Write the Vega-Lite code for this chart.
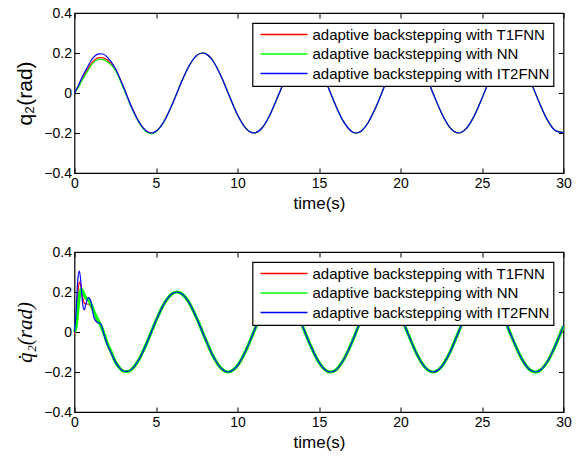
{
  "$schema": "https://vega.github.io/schema/vega-lite/v6.json",
  "background": "white",
  "padding": {"left": 13.5, "top": 5, "right": 5, "bottom": 5},
  "spacing": 32,
  "datasets": {
    "pos": [
      {"t": 0, "T1FNN": 0, "NN": 0, "IT2FNN": 0},
      {"t": 0.25, "T1FNN": 0.035, "NN": 0.03, "IT2FNN": 0.04},
      {"t": 0.5, "T1FNN": 0.075, "NN": 0.068, "IT2FNN": 0.085},
      {"t": 0.75, "T1FNN": 0.11, "NN": 0.102, "IT2FNN": 0.122},
      {"t": 1, "T1FNN": 0.145, "NN": 0.136, "IT2FNN": 0.16},
      {"t": 1.25, "T1FNN": 0.167, "NN": 0.158, "IT2FNN": 0.185},
      {"t": 1.5, "T1FNN": 0.177, "NN": 0.168, "IT2FNN": 0.196},
      {"t": 1.75, "T1FNN": 0.176, "NN": 0.167, "IT2FNN": 0.195},
      {"t": 2, "T1FNN": 0.165, "NN": 0.157, "IT2FNN": 0.18},
      {"t": 2.5, "T1FNN": 0.121, "NN": 0.114, "IT2FNN": 0.124},
      {"t": 3, "T1FNN": 0.03, "NN": 0.024, "IT2FNN": 0.031},
      {"t": 3.5, "T1FNN": -0.069, "NN": -0.074, "IT2FNN": -0.069},
      {"t": 4, "T1FNN": -0.15, "NN": -0.154, "IT2FNN": -0.151},
      {"t": 4.5, "T1FNN": -0.195, "NN": -0.199, "IT2FNN": -0.195},
      {"t": 4.75, "T1FNN": -0.2, "NN": -0.204, "IT2FNN": -0.2},
      {"t": 5, "T1FNN": -0.191, "NN": -0.194, "IT2FNN": -0.191},
      {"t": 5.5, "T1FNN": -0.141, "NN": -0.142, "IT2FNN": -0.141},
      {"t": 6, "T1FNN": -0.056, "NN": -0.056, "IT2FNN": -0.056},
      {"t": 6.5, "T1FNN": 0.043, "NN": 0.043, "IT2FNN": 0.043},
      {"t": 7, "T1FNN": 0.131, "NN": 0.131, "IT2FNN": 0.131},
      {"t": 7.5, "T1FNN": 0.188, "NN": 0.188, "IT2FNN": 0.188},
      {"t": 7.85, "T1FNN": 0.2, "NN": 0.2, "IT2FNN": 0.2},
      {"t": 8, "T1FNN": 0.198, "NN": 0.198, "IT2FNN": 0.198},
      {"t": 8.5, "T1FNN": 0.16, "NN": 0.16, "IT2FNN": 0.16},
      {"t": 9, "T1FNN": 0.082, "NN": 0.082, "IT2FNN": 0.082},
      {"t": 9.5, "T1FNN": -0.015, "NN": -0.015, "IT2FNN": -0.015},
      {"t": 10, "T1FNN": -0.109, "NN": -0.109, "IT2FNN": -0.109},
      {"t": 10.5, "T1FNN": -0.176, "NN": -0.176, "IT2FNN": -0.176},
      {"t": 11, "T1FNN": -0.2, "NN": -0.2, "IT2FNN": -0.2},
      {"t": 11.5, "T1FNN": -0.175, "NN": -0.175, "IT2FNN": -0.175},
      {"t": 12, "T1FNN": -0.107, "NN": -0.107, "IT2FNN": -0.107},
      {"t": 12.5, "T1FNN": -0.013, "NN": -0.013, "IT2FNN": -0.013},
      {"t": 13, "T1FNN": 0.084, "NN": 0.084, "IT2FNN": 0.084},
      {"t": 13.5, "T1FNN": 0.161, "NN": 0.161, "IT2FNN": 0.161},
      {"t": 14, "T1FNN": 0.198, "NN": 0.198, "IT2FNN": 0.198},
      {"t": 14.15, "T1FNN": 0.2, "NN": 0.2, "IT2FNN": 0.2},
      {"t": 14.5, "T1FNN": 0.187, "NN": 0.187, "IT2FNN": 0.187},
      {"t": 15, "T1FNN": 0.13, "NN": 0.13, "IT2FNN": 0.13},
      {"t": 15.5, "T1FNN": 0.041, "NN": 0.041, "IT2FNN": 0.041},
      {"t": 16, "T1FNN": -0.058, "NN": -0.058, "IT2FNN": -0.058},
      {"t": 16.5, "T1FNN": -0.142, "NN": -0.142, "IT2FNN": -0.142},
      {"t": 17, "T1FNN": -0.192, "NN": -0.192, "IT2FNN": -0.192},
      {"t": 17.28, "T1FNN": -0.2, "NN": -0.2, "IT2FNN": -0.2},
      {"t": 17.5, "T1FNN": -0.195, "NN": -0.195, "IT2FNN": -0.195},
      {"t": 18, "T1FNN": -0.15, "NN": -0.15, "IT2FNN": -0.15},
      {"t": 18.5, "T1FNN": -0.069, "NN": -0.069, "IT2FNN": -0.069},
      {"t": 19, "T1FNN": 0.03, "NN": 0.03, "IT2FNN": 0.03},
      {"t": 19.5, "T1FNN": 0.121, "NN": 0.121, "IT2FNN": 0.121},
      {"t": 20, "T1FNN": 0.183, "NN": 0.183, "IT2FNN": 0.183},
      {"t": 20.42, "T1FNN": 0.2, "NN": 0.2, "IT2FNN": 0.2},
      {"t": 20.75, "T1FNN": 0.19, "NN": 0.19, "IT2FNN": 0.19},
      {"t": 21, "T1FNN": 0.167, "NN": 0.167, "IT2FNN": 0.167},
      {"t": 21.5, "T1FNN": 0.094, "NN": 0.094, "IT2FNN": 0.094},
      {"t": 22, "T1FNN": -0.002, "NN": -0.002, "IT2FNN": -0.002},
      {"t": 22.5, "T1FNN": -0.097, "NN": -0.097, "IT2FNN": -0.097},
      {"t": 23, "T1FNN": -0.169, "NN": -0.169, "IT2FNN": -0.169},
      {"t": 23.56, "T1FNN": -0.2, "NN": -0.2, "IT2FNN": -0.2},
      {"t": 24, "T1FNN": -0.181, "NN": -0.181, "IT2FNN": -0.181},
      {"t": 24.5, "T1FNN": -0.118, "NN": -0.118, "IT2FNN": -0.118},
      {"t": 25, "T1FNN": -0.026, "NN": -0.026, "IT2FNN": -0.026},
      {"t": 25.5, "T1FNN": 0.072, "NN": 0.072, "IT2FNN": 0.072},
      {"t": 26, "T1FNN": 0.153, "NN": 0.153, "IT2FNN": 0.153},
      {"t": 26.5, "T1FNN": 0.196, "NN": 0.196, "IT2FNN": 0.196},
      {"t": 26.7, "T1FNN": 0.2, "NN": 0.2, "IT2FNN": 0.2},
      {"t": 27, "T1FNN": 0.191, "NN": 0.191, "IT2FNN": 0.191},
      {"t": 27.5, "T1FNN": 0.14, "NN": 0.14, "IT2FNN": 0.14},
      {"t": 28, "T1FNN": 0.054, "NN": 0.054, "IT2FNN": 0.054},
      {"t": 28.5, "T1FNN": -0.045, "NN": -0.045, "IT2FNN": -0.045},
      {"t": 29, "T1FNN": -0.133, "NN": -0.133, "IT2FNN": -0.133},
      {"t": 29.5, "T1FNN": -0.188, "NN": -0.188, "IT2FNN": -0.188},
      {"t": 30, "T1FNN": -0.198, "NN": -0.198, "IT2FNN": -0.198}
    ],
    "vel": [
      {"t": 0, "T1FNN": -0.01, "NN": 0, "IT2FNN": 0},
      {"t": 0.1, "T1FNN": 0.07, "NN": 0.03, "IT2FNN": 0.1},
      {"t": 0.2, "T1FNN": 0.19, "NN": 0.11, "IT2FNN": 0.26},
      {"t": 0.3, "T1FNN": 0.25, "NN": 0.18, "IT2FNN": 0.305},
      {"t": 0.4, "T1FNN": 0.225, "NN": 0.215, "IT2FNN": 0.24},
      {"t": 0.5, "T1FNN": 0.175, "NN": 0.205, "IT2FNN": 0.14},
      {"t": 0.6, "T1FNN": 0.145, "NN": 0.185, "IT2FNN": 0.11},
      {"t": 0.7, "T1FNN": 0.14, "NN": 0.17, "IT2FNN": 0.14},
      {"t": 0.85, "T1FNN": 0.14, "NN": 0.16, "IT2FNN": 0.172},
      {"t": 1, "T1FNN": 0.125, "NN": 0.14, "IT2FNN": 0.155},
      {"t": 1.2, "T1FNN": 0.09, "NN": 0.1, "IT2FNN": 0.07},
      {"t": 1.4, "T1FNN": 0.055, "NN": 0.065, "IT2FNN": 0.048},
      {"t": 1.6, "T1FNN": 0.035, "NN": 0.035, "IT2FNN": 0.042},
      {"t": 1.8, "T1FNN": -0.005, "NN": -0.005, "IT2FNN": -0.01},
      {"t": 2, "T1FNN": -0.055, "NN": -0.055, "IT2FNN": -0.06},
      {"t": 2.25, "T1FNN": -0.1, "NN": -0.1, "IT2FNN": -0.105},
      {"t": 2.5, "T1FNN": -0.145, "NN": -0.148, "IT2FNN": -0.148},
      {"t": 2.75, "T1FNN": -0.175, "NN": -0.178, "IT2FNN": -0.178},
      {"t": 3, "T1FNN": -0.193, "NN": -0.196, "IT2FNN": -0.195},
      {"t": 3.25, "T1FNN": -0.196, "NN": -0.198, "IT2FNN": -0.197},
      {"t": 3.5, "T1FNN": -0.187, "NN": -0.187, "IT2FNN": -0.187},
      {"t": 4, "T1FNN": -0.131, "NN": -0.131, "IT2FNN": -0.131},
      {"t": 4.5, "T1FNN": -0.042, "NN": -0.042, "IT2FNN": -0.042},
      {"t": 5, "T1FNN": 0.057, "NN": 0.057, "IT2FNN": 0.057},
      {"t": 5.5, "T1FNN": 0.142, "NN": 0.142, "IT2FNN": 0.142},
      {"t": 6, "T1FNN": 0.192, "NN": 0.192, "IT2FNN": 0.192},
      {"t": 6.28, "T1FNN": 0.2, "NN": 0.2, "IT2FNN": 0.2},
      {"t": 6.5, "T1FNN": 0.195, "NN": 0.195, "IT2FNN": 0.195},
      {"t": 7, "T1FNN": 0.151, "NN": 0.151, "IT2FNN": 0.151},
      {"t": 7.5, "T1FNN": 0.069, "NN": 0.069, "IT2FNN": 0.069},
      {"t": 8, "T1FNN": -0.029, "NN": -0.029, "IT2FNN": -0.029},
      {"t": 8.5, "T1FNN": -0.12, "NN": -0.12, "IT2FNN": -0.12},
      {"t": 9, "T1FNN": -0.182, "NN": -0.182, "IT2FNN": -0.182},
      {"t": 9.42, "T1FNN": -0.2, "NN": -0.2, "IT2FNN": -0.2},
      {"t": 9.75, "T1FNN": -0.189, "NN": -0.189, "IT2FNN": -0.189},
      {"t": 10, "T1FNN": -0.168, "NN": -0.168, "IT2FNN": -0.168},
      {"t": 10.5, "T1FNN": -0.095, "NN": -0.095, "IT2FNN": -0.095},
      {"t": 11, "T1FNN": 0.001, "NN": 0.001, "IT2FNN": 0.001},
      {"t": 11.5, "T1FNN": 0.097, "NN": 0.097, "IT2FNN": 0.097},
      {"t": 12, "T1FNN": 0.169, "NN": 0.169, "IT2FNN": 0.169},
      {"t": 12.57, "T1FNN": 0.2, "NN": 0.2, "IT2FNN": 0.2},
      {"t": 13, "T1FNN": 0.181, "NN": 0.181, "IT2FNN": 0.181},
      {"t": 13.5, "T1FNN": 0.119, "NN": 0.119, "IT2FNN": 0.119},
      {"t": 14, "T1FNN": 0.027, "NN": 0.027, "IT2FNN": 0.027},
      {"t": 14.5, "T1FNN": -0.071, "NN": -0.071, "IT2FNN": -0.071},
      {"t": 15, "T1FNN": -0.152, "NN": -0.152, "IT2FNN": -0.152},
      {"t": 15.5, "T1FNN": -0.196, "NN": -0.196, "IT2FNN": -0.196},
      {"t": 15.71, "T1FNN": -0.2, "NN": -0.2, "IT2FNN": -0.2},
      {"t": 16, "T1FNN": -0.192, "NN": -0.192, "IT2FNN": -0.192},
      {"t": 16.5, "T1FNN": -0.14, "NN": -0.14, "IT2FNN": -0.14},
      {"t": 17, "T1FNN": -0.055, "NN": -0.055, "IT2FNN": -0.055},
      {"t": 17.5, "T1FNN": 0.044, "NN": 0.044, "IT2FNN": 0.044},
      {"t": 18, "T1FNN": 0.132, "NN": 0.132, "IT2FNN": 0.132},
      {"t": 18.5, "T1FNN": 0.188, "NN": 0.188, "IT2FNN": 0.188},
      {"t": 18.85, "T1FNN": 0.2, "NN": 0.2, "IT2FNN": 0.2},
      {"t": 19, "T1FNN": 0.198, "NN": 0.198, "IT2FNN": 0.198},
      {"t": 19.5, "T1FNN": 0.159, "NN": 0.159, "IT2FNN": 0.159},
      {"t": 20, "T1FNN": 0.082, "NN": 0.082, "IT2FNN": 0.082},
      {"t": 20.5, "T1FNN": -0.016, "NN": -0.016, "IT2FNN": -0.016},
      {"t": 21, "T1FNN": -0.11, "NN": -0.11, "IT2FNN": -0.11},
      {"t": 21.5, "T1FNN": -0.176, "NN": -0.176, "IT2FNN": -0.176},
      {"t": 22, "T1FNN": -0.2, "NN": -0.2, "IT2FNN": -0.2},
      {"t": 22.5, "T1FNN": -0.175, "NN": -0.175, "IT2FNN": -0.175},
      {"t": 23, "T1FNN": -0.107, "NN": -0.107, "IT2FNN": -0.107},
      {"t": 23.5, "T1FNN": -0.012, "NN": -0.012, "IT2FNN": -0.012},
      {"t": 24, "T1FNN": 0.085, "NN": 0.085, "IT2FNN": 0.085},
      {"t": 24.5, "T1FNN": 0.161, "NN": 0.161, "IT2FNN": 0.161},
      {"t": 25.13, "T1FNN": 0.2, "NN": 0.2, "IT2FNN": 0.2},
      {"t": 25.5, "T1FNN": 0.187, "NN": 0.187, "IT2FNN": 0.187},
      {"t": 26, "T1FNN": 0.129, "NN": 0.129, "IT2FNN": 0.129},
      {"t": 26.5, "T1FNN": 0.04, "NN": 0.04, "IT2FNN": 0.04},
      {"t": 27, "T1FNN": -0.058, "NN": -0.058, "IT2FNN": -0.058},
      {"t": 27.5, "T1FNN": -0.143, "NN": -0.143, "IT2FNN": -0.143},
      {"t": 28, "T1FNN": -0.193, "NN": -0.193, "IT2FNN": -0.193},
      {"t": 28.27, "T1FNN": -0.2, "NN": -0.2, "IT2FNN": -0.2},
      {"t": 28.5, "T1FNN": -0.195, "NN": -0.195, "IT2FNN": -0.195},
      {"t": 29, "T1FNN": -0.15, "NN": -0.15, "IT2FNN": -0.15},
      {"t": 29.5, "T1FNN": -0.068, "NN": -0.068, "IT2FNN": -0.068},
      {"t": 30, "T1FNN": 0.031, "NN": 0.031, "IT2FNN": 0.031}
    ]
  },
  "vconcat": [
    {
      "width": 489,
      "height": 160,
      "data": {"name": "pos"},
      "transform": [{"fold": ["T1FNN", "NN", "IT2FNN"], "as": ["series", "value"]}],
      "layer": [
        {
          "mark": {"type": "line", "interpolate": "monotone", "strokeWidth": 1.2},
          "encoding": {
            "x": {"field": "t", "type": "quantitative", "scale": {"domain": [0, 30], "nice": false}, "axis": {"values": [0, 5, 10, 15, 20, 25, 30], "title": "time(s)"}},
            "y": {"field": "value", "type": "quantitative", "scale": {"domain": [-0.4, 0.4], "nice": false}, "axis": {"values": [-0.4, -0.2, 0, 0.2, 0.4], "format": ".1~f", "title": "q₂(rad)"}},
            "color": {"field": "series", "type": "nominal", "sort": ["T1FNN", "NN", "IT2FNN"], "scale": {"domain": ["T1FNN", "NN", "IT2FNN"], "range": ["#ff0000", "#00ff00", "#0000ff"]}, "legend": {"title": null, "labelExpr": "'adaptive backstepping with ' + datum.label"}}
          }
        },
        {
          "mark": {"type": "line", "opacity": 0},
          "encoding": {
            "x": {"field": "t", "type": "quantitative", "axis": {"orient": "top", "labels": false, "title": null, "values": [0, 5, 10, 15, 20, 25, 30]}},
            "y": {"field": "value", "type": "quantitative", "axis": {"orient": "right", "labels": false, "title": null, "values": [-0.4, -0.2, 0, 0.2, 0.4]}},
            "detail": {"field": "series"}
          }
        }
      ],
      "resolve": {"axis": {"x": "independent", "y": "independent"}}
    },
    {
      "width": 489,
      "height": 160,
      "data": {"name": "vel"},
      "transform": [{"fold": ["T1FNN", "NN", "IT2FNN"], "as": ["series", "value"]}],
      "layer": [
        {
          "transform": [{"filter": "datum.series === 'T1FNN'"}],
          "mark": {"type": "line", "interpolate": "monotone", "strokeWidth": 1.2},
          "encoding": {
            "x": {"field": "t", "type": "quantitative", "scale": {"domain": [0, 30], "nice": false}, "axis": {"values": [0, 5, 10, 15, 20, 25, 30], "title": "time(s)"}},
            "y": {"field": "value", "type": "quantitative", "scale": {"domain": [-0.4, 0.4], "nice": false}, "axis": {"values": [-0.4, -0.2, 0, 0.2, 0.4], "format": ".1~f", "title": "q̇₂(rad)", "titleFont": "Liberation Serif", "titleFontStyle": "italic"}},
            "color": {"field": "series", "type": "nominal", "sort": ["T1FNN", "NN", "IT2FNN"], "scale": {"domain": ["T1FNN", "NN", "IT2FNN"], "range": ["#ff0000", "#00ff00", "#0000ff"]}, "legend": {"title": null, "labelExpr": "'adaptive backstepping with ' + datum.label"}}
          }
        },
        {
          "transform": [{"filter": "datum.series === 'NN'"}],
          "mark": {"type": "line", "interpolate": "monotone", "strokeWidth": 3.2},
          "encoding": {
            "x": {"field": "t", "type": "quantitative", "axis": null},
            "y": {"field": "value", "type": "quantitative", "axis": null},
            "color": {"field": "series", "type": "nominal"}
          }
        },
        {
          "transform": [{"filter": "datum.series === 'IT2FNN'"}],
          "mark": {"type": "line", "interpolate": "monotone", "strokeWidth": 1.2},
          "encoding": {
            "x": {"field": "t", "type": "quantitative", "axis": null},
            "y": {"field": "value", "type": "quantitative", "axis": null},
            "color": {"field": "series", "type": "nominal"}
          }
        },
        {
          "mark": {"type": "line", "opacity": 0},
          "encoding": {
            "x": {"field": "t", "type": "quantitative", "axis": {"orient": "top", "labels": false, "title": null, "values": [0, 5, 10, 15, 20, 25, 30]}},
            "y": {"field": "value", "type": "quantitative", "axis": {"orient": "right", "labels": false, "title": null, "values": [-0.4, -0.2, 0, 0.2, 0.4]}},
            "detail": {"field": "series"}
          }
        }
      ],
      "resolve": {"axis": {"x": "independent", "y": "independent"}}
    }
  ],
  "resolve": {"legend": {"color": "independent"}},
  "config": {
    "font": "Liberation Sans",
    "view": {"stroke": "black", "strokeWidth": 1.2},
    "axis": {
      "grid": false,
      "domain": false,
      "ticks": true,
      "tickSize": -5,
      "tickColor": "black",
      "tickWidth": 1,
      "labelPadding": 8,
      "labelFlush": false,
      "labelOverlap": false,
      "labelFont": "Liberation Sans",
      "labelFontSize": 14,
      "labelColor": "black",
      "titleFont": "Liberation Sans",
      "titleFontSize": 17,
      "titleFontWeight": "normal",
      "titleColor": "black",
      "titlePadding": 5
    },
    "axisY": {"titleFontSize": 21, "titlePadding": 8},
    "legend": {
      "orient": "top-right",
      "offset": 10,
      "symbolType": "M-4.7,0H4.7",
      "symbolSize": 100,
      "symbolStrokeWidth": 1.3,
      "symbolOffset": 20,
      "labelOffset": 21,
      "labelFont": "Liberation Sans",
      "labelFontSize": 15,
      "labelColor": "black",
      "labelLimit": 400,
      "strokeColor": "black",
      "strokeWidth": 1.2,
      "fillColor": "white",
      "padding": 4,
      "rowPadding": 3.5,
      "cornerRadius": 0
    }
  }
}
